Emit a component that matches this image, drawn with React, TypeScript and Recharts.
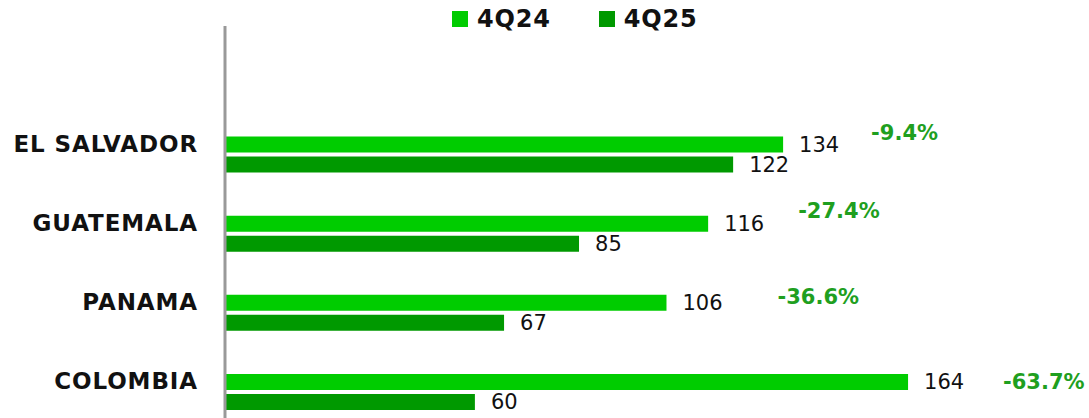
import { BarChart, Bar, XAxis, YAxis, LabelList } from 'recharts';

// 国家 / 季度数据
const countries = ['EL SALVADOR', 'GUATEMALA', 'PANAMA', 'COLOMBIA'];
const q24 = [134, 116, 106, 164];
const q25 = [122, 85, 67, 60];
const changes = ['-9.4%', '-27.4%', '-36.6%', '-63.7%'];

const seriesNames = ['4Q24', '4Q25'];
const seriesColors = ['#00CC00', '#009900'];

// 百分比标签相对柱末端的偏移
const changeNudge = [
  { dx: 88, dy: -12 },
  { dx: 90, dy: -13 },
  { dx: 111, dy: -6 },
  { dx: 95, dy: 0 },
];

const data = countries.map((name, i) => ({
  name,
  q24: q24[i],
  q25: q25[i],
  change: changes[i],
}));

const FONT = '"DejaVu Sans", sans-serif';

const CountryTick = (props: any) => {
  const { x, y, payload } = props;
  return (
    <text
      x={x}
      y={y - 10}
      textAnchor="end"
      dominantBaseline="central"
      fontFamily={FONT}
      fontWeight="bold"
      fontSize={23}
      letterSpacing={0.9}
      fill="#111"
    >
      {payload.value}
    </text>
  );
};

const ChangeLabel = (props: any) => {
  const { x, y, width, height, index } = props;
  const n = changeNudge[index] || { dx: 90, dy: 0 };
  return (
    <text
      x={x + width + n.dx}
      y={y + height / 2 + n.dy}
      dominantBaseline="central"
      fontFamily={FONT}
      fontWeight="bold"
      fontSize={21}
      fill="#1F9F1F"
    >
      {data[index].change}
    </text>
  );
};

const valueLabelStyle = { fontFamily: FONT, fontSize: 21, fill: '#111' };

export default function App() {
  return (
    <div style={{ position: 'absolute', left: 0, top: 0, width: 1089, height: 418, overflow: 'hidden', background: '#fff' }}>
      {/* 图例 */}
      <div
        style={{
          position: 'absolute',
          left: 452,
          top: 0,
          height: 37,
          display: 'flex',
          alignItems: 'center',
          gap: 48,
          fontFamily: FONT,
          fontWeight: 'bold',
          fontSize: 24,
          letterSpacing: 0.8,
          color: '#111',
        }}
      >
        {seriesNames.map((s, i) => (
          <div key={s} style={{ display: 'flex', alignItems: 'center' }}>
            <span style={{ width: 16, height: 16, background: seriesColors[i], marginRight: 9, display: 'inline-block' }} />
            <span>{s}</span>
          </div>
        ))}
      </div>

      <BarChart
        width={1089}
        height={432}
        data={data}
        layout="vertical"
        margin={{ top: 26, right: 31, left: 0, bottom: 1 }}
        barSize={16}
        barGap={4}
      >
        <XAxis type="number" domain={[0, 200]} hide />
        <YAxis
          type="category"
          dataKey="name"
          width={225}
          padding={{ top: 88.5, bottom: 0 }}
          axisLine={{ stroke: '#999', strokeWidth: 3 }}
          tickLine={false}
          tickMargin={21}
          tick={<CountryTick />}
        />
        <Bar dataKey="q24" name={seriesNames[0]} fill={seriesColors[0]} isAnimationActive={false}>
          <LabelList dataKey="q24" position="right" offset={16} style={valueLabelStyle} />
          <LabelList dataKey="change" content={<ChangeLabel />} />
        </Bar>
        <Bar dataKey="q25" name={seriesNames[1]} fill={seriesColors[1]} isAnimationActive={false}>
          <LabelList dataKey="q25" position="right" offset={16} style={valueLabelStyle} />
        </Bar>
      </BarChart>
    </div>
  );
}
